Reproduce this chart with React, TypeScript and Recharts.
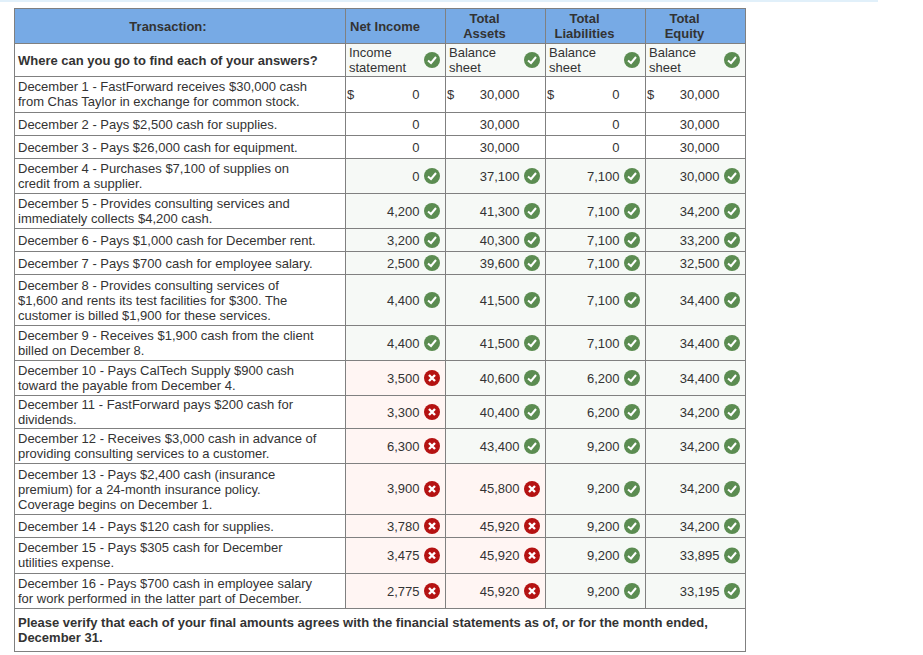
import React from "react";
import { ScatterChart, Scatter, XAxis, YAxis, ReferenceArea } from "recharts";

const transactions = [
  "December 1 - FastForward receives $30,000 cash\nfrom Chas Taylor in exchange for common stock.",
  "December 2 - Pays $2,500 cash for supplies.",
  "December 3 - Pays $26,000 cash for equipment.",
  "December 4 - Purchases $7,100 of supplies on\ncredit from a supplier.",
  "December 5 - Provides consulting services and\nimmediately collects $4,200 cash.",
  "December 6 - Pays $1,000 cash for December rent.",
  "December 7 - Pays $700 cash for employee salary.",
  "December 8 - Provides consulting services of\n$1,600 and rents its test facilities for $300. The\ncustomer is billed $1,900 for these services.",
  "December 9 - Receives $1,900 cash from the client\nbilled on December 8.",
  "December 10 - Pays CalTech Supply $900 cash\ntoward the payable from December 4.",
  "December 11 - FastForward pays $200 cash for\ndividends.",
  "December 12 - Receives $3,000 cash in advance of\nproviding consulting services to a customer.",
  "December 13 - Pays $2,400 cash (insurance\npremium) for a 24-month insurance policy.\nCoverage begins on December 1.",
  "December 14 - Pays $120 cash for supplies.",
  "December 15 - Pays $305 cash for December\nutilities expense.",
  "December 16 - Pays $700 cash in employee salary\nfor work performed in the latter part of December.",
];

const netIncome = [0, 0, 0, 0, 4200, 3200, 2500, 4400, 4400, 3500, 3300, 6300, 3900, 3780, 3475, 2775];
const totalAssets = [30000, 30000, 30000, 37100, 41300, 40300, 39600, 41500, 41500, 40600, 40400, 43400, 45800, 45920, 45920, 45920];
const totalLiabilities = [0, 0, 0, 7100, 7100, 7100, 7100, 7100, 7100, 6200, 6200, 9200, 9200, 9200, 9200, 9200];
const totalEquity = [30000, 30000, 30000, 30000, 34200, 33200, 32500, 34400, 34400, 34400, 34200, 34200, 34200, 34200, 33895, 33195];

// "" = not graded, "y" = correct, "n" = wrong
const netIncomeGrades = ["", "", "", "y", "y", "y", "y", "y", "y", "n", "n", "n", "n", "n", "n", "n"];
const assetsGrades = ["", "", "", "y", "y", "y", "y", "y", "y", "y", "y", "y", "n", "n", "n", "n"];
const liabilitiesGrades = ["", "", "", "y", "y", "y", "y", "y", "y", "y", "y", "y", "y", "y", "y", "y"];
const equityGrades = ["", "", "", "y", "y", "y", "y", "y", "y", "y", "y", "y", "y", "y", "y", "y"];

const headers = ["Net Income", "Total\nAssets", "Total\nLiabilities", "Total\nEquity"];
const sources = ["Income\nstatement", "Balance\nsheet", "Balance\nsheet", "Balance\nsheet"];
const question = "Where can you go to find each of your answers?";
const footer =
  "Please verify that each of your final amounts agrees with the financial statements as of, or for the month ended,\nDecember 31.";

// layout of the grid, in chart units (1 unit = 1px)
const W = 923;
const H = 655;
const colEdges = [14.5, 345.5, 445.5, 545.5, 645.5, 745.5];
const rowEdges = [8.5, 43.5, 76.5, 112.5, 135.5, 158.5, 193.5, 228.5, 251.5, 274.5, 325.5, 360.5, 395.5, 428.5, 463.5, 514.5, 537.5, 573.5, 608.5, 651.5];

const BLUE = "#77aae5";
const GREEN_BG = "#f6f9f6";
const RED_BG = "#fff5f3";
const BORDER = "#808080";
const INK = "#333333";
const FONT = "'Liberation Sans', Arial, sans-serif";

const cell = (col: number, row: number, extra: any, colSpan = 1) => ({
  x: (colEdges[col] + colEdges[col + colSpan]) / 2,
  y: (rowEdges[row] + rowEdges[row + 1]) / 2,
  w: colEdges[col + colSpan] - colEdges[col],
  h: rowEdges[row + 1] - rowEdges[row],
  ...extra,
});

const firstColumn = [
  cell(0, 0, { lines: "Transaction:", bold: true, fill: BLUE, textX: 153.5, anchor: "middle" }),
  cell(0, 1, { lines: question, bold: true, textX: 3.5 }),
  ...transactions.map((t, i) => cell(0, i + 2, { lines: t, textX: 3.5 })),
];

const footerRow = [cell(0, 18, { lines: footer, bold: true, textX: 3.5 }, 5)];

const valueColumn = (col: number, values: number[], grades: string[]) => [
  cell(col, 0, {
    lines: headers[col - 1],
    bold: true,
    fill: BLUE,
    textX: col === 1 ? 4.5 : 39,
    anchor: col === 1 ? "start" : "middle",
  }),
  cell(col, 1, { lines: sources[col - 1], textX: 3.5, grade: "y", fill: GREEN_BG }),
  ...values.map((v, i) =>
    cell(col, i + 2, {
      value: v.toLocaleString("en-US"),
      dollar: i === 0,
      grade: grades[i],
      fill: grades[i] === "n" ? RED_BG : grades[i] === "y" ? GREEN_BG : "#ffffff",
    })
  ),
];

const GradeIcon = ({ x, y, ok }: { x: number; y: number; ok: boolean }) =>
  ok ? (
    <g>
      <circle cx={x} cy={y} r={8} fill="#5b8c51" />
      <path d={`M${x - 4} ${y + 0.5}L${x - 1} ${y + 3}L${x + 4} ${y - 3}`} fill="none" stroke="#fff" strokeWidth={2} />
    </g>
  ) : (
    <g>
      <circle cx={x} cy={y} r={8} fill="#b51212" />
      <path d={`M${x - 3} ${y - 3}L${x + 3} ${y + 3}M${x + 3} ${y - 3}L${x - 3} ${y + 3}`} fill="none" stroke="#fff" strokeWidth={2.4} />
    </g>
  );

const CellShape = (props: any) => {
  const { cx, cy, payload: c } = props;
  const left = cx - c.w / 2;
  const top = cy - c.h / 2;
  const lines: string[] = c.lines ? c.lines.split("\n") : [];
  // two-line cells sit a pixel higher in the reference
  const firstBaseline = cy - lines.length * 7.5 + 12.5 - (lines.length % 2 === 0 ? 1 : 0);
  const numberBaseline = Math.floor(cy + 5);
  const weight = c.bold ? "bold" : "normal";
  return (
    <g fontFamily={FONT} fontSize={13} fill={INK}>
      <rect x={left} y={top} width={c.w} height={c.h} fill={c.fill || "#ffffff"} stroke={BORDER} strokeWidth={1} />
      {lines.map((line, i) => (
        <text
          key={i}
          x={left + c.textX}
          y={firstBaseline + i * 15}
          textAnchor={c.anchor || "start"}
          fontWeight={weight}
        >
          {line}
        </text>
      ))}
      {c.value !== undefined && (
        <text x={left + 74} y={numberBaseline} textAnchor="end">
          {c.value}
        </text>
      )}
      {c.dollar && (
        <text x={left + 1.5} y={numberBaseline}>
          $
        </text>
      )}
      {c.grade && <GradeIcon x={left + 86.5} y={cy} ok={c.grade === "y"} />}
    </g>
  );
};

const series = [
  firstColumn,
  valueColumn(1, netIncome, netIncomeGrades),
  valueColumn(2, totalAssets, assetsGrades),
  valueColumn(3, totalLiabilities, liabilitiesGrades),
  valueColumn(4, totalEquity, equityGrades),
  footerRow,
];

export default function App() {
  return (
    <div style={{ position: "absolute", left: 0, top: 0, width: W, height: H }}>
      <ScatterChart width={W} height={H} margin={{ top: 0, right: 0, bottom: 0, left: 0 }}>
        <XAxis type="number" dataKey="x" domain={[0, W]} hide />
        <YAxis type="number" dataKey="y" domain={[0, H]} reversed hide />
        <ReferenceArea x1={0} x2={878} y1={0} y2={2} fill="#e1f0fa" fillOpacity={1} stroke="none" />
        {series.map((data, i) => (
          <Scatter key={i} data={data} shape={CellShape} isAnimationActive={false} />
        ))}
      </ScatterChart>
    </div>
  );
}
